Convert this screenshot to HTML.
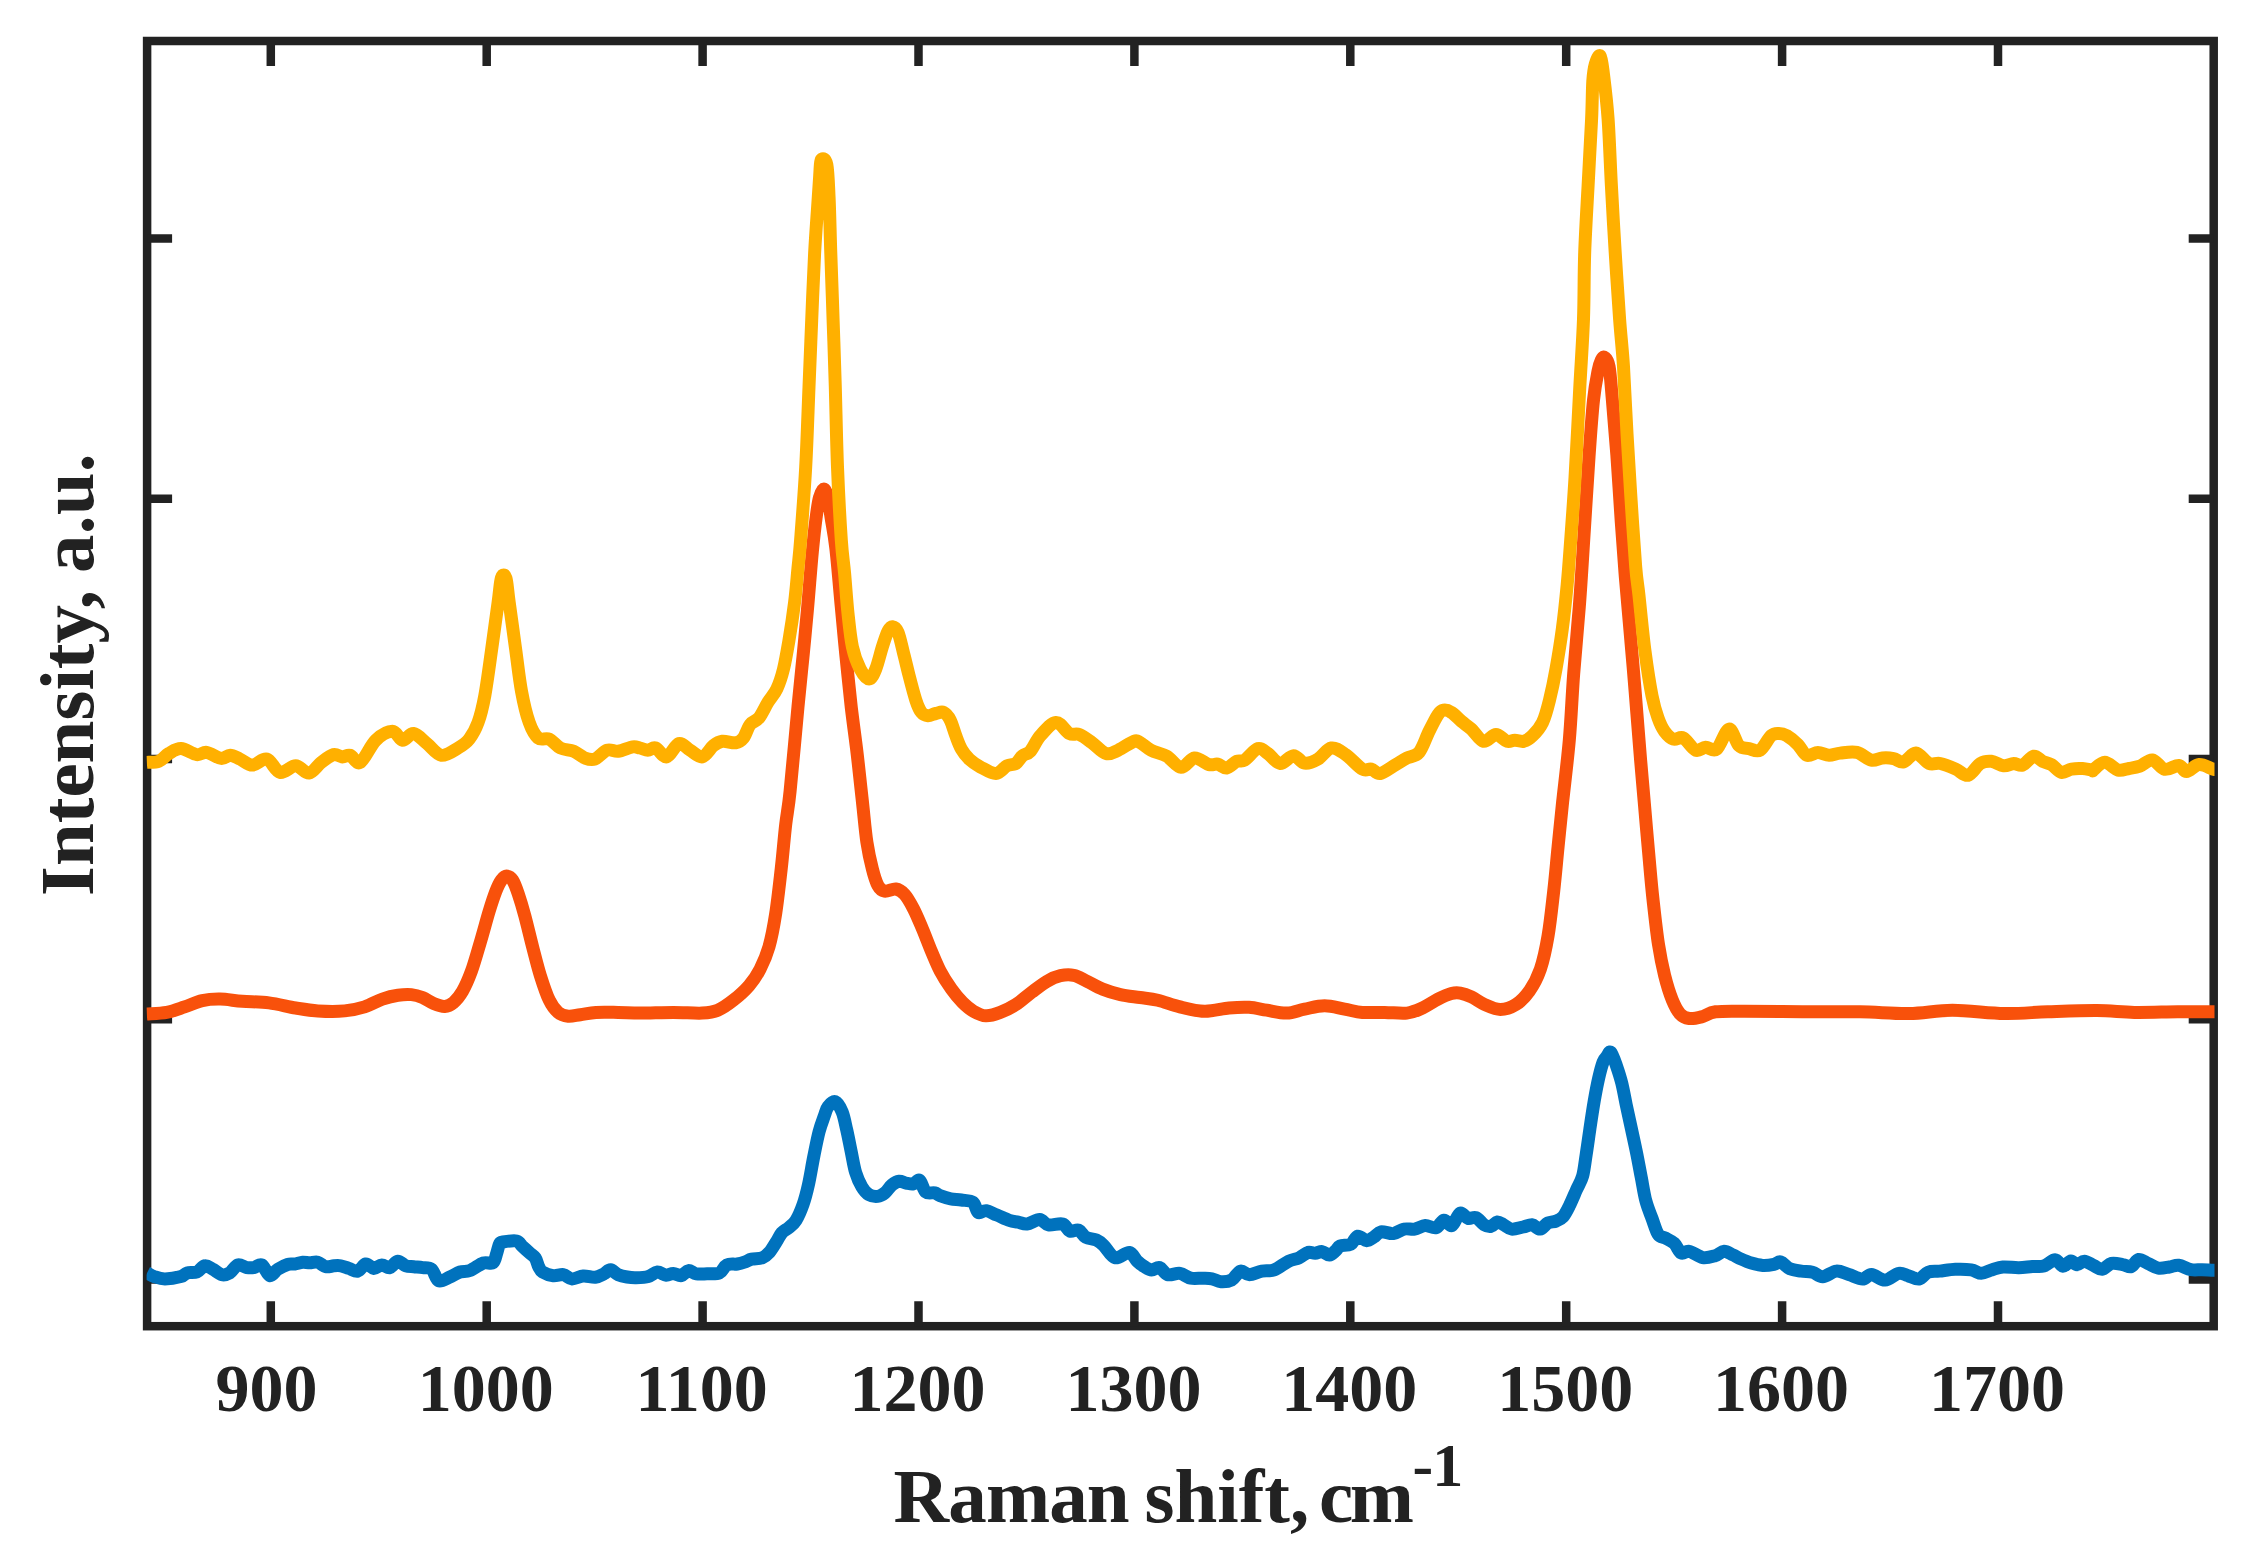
<!DOCTYPE html>
<html lang="en"><head><meta charset="utf-8"><title>Raman spectra</title>
<style>html,body{margin:0;padding:0;background:#fff}body{width:2250px;height:1560px;overflow:hidden}svg{display:block}text{font-family:"Liberation Serif","Times New Roman",serif;font-weight:bold;fill:#222222}</style></head><body>
<svg width="2250" height="1560" viewBox="0 0 2250 1560">
<rect width="2250" height="1560" fill="#ffffff"/>
<g stroke="#222222" stroke-width="8.5" fill="none" stroke-linecap="butt">
<rect x="147.1" y="41.0" width="2066.6" height="1285.2"/>
<path d="M270.8 1326.2 V1301.2 M270.8 41.0 V66.0 M486.7 1326.2 V1301.2 M486.7 41.0 V66.0 M702.6 1326.2 V1301.2 M702.6 41.0 V66.0 M918.5 1326.2 V1301.2 M918.5 41.0 V66.0 M1134.4 1326.2 V1301.2 M1134.4 41.0 V66.0 M1350.3 1326.2 V1301.2 M1350.3 41.0 V66.0 M1566.2 1326.2 V1301.2 M1566.2 41.0 V66.0 M1782.1 1326.2 V1301.2 M1782.1 41.0 V66.0 M1998.0 1326.2 V1301.2 M1998.0 41.0 V66.0 M147.1 238.5 H172.1 M2213.7 238.5 H2188.7 M147.1 498.8 H172.1 M2213.7 498.8 H2188.7 M147.1 759.0 H172.1 M2213.7 759.0 H2188.7 M147.1 1019.2 H172.1 M2213.7 1019.2 H2188.7 M147.1 1279.5 H172.1 M2213.7 1279.5 H2188.7"/>
</g>
<defs><clipPath id="c"><rect x="146.6" y="41.0" width="2067.9" height="1285.2"/></clipPath></defs>
<g clip-path="url(#c)" fill="none" stroke-width="13" stroke-linejoin="round" stroke-linecap="butt">
<path stroke="#0072BD" d="M147.1 1272.9C148.3 1273.5 151.2 1275.6 154.2 1276.6C157.2 1277.6 160.4 1278.9 164.9 1278.9C169.4 1278.9 177.2 1277.6 180.9 1276.6C184.6 1275.6 184.4 1273.7 187.1 1272.9C189.8 1272.1 193.9 1273.2 196.9 1272.0C199.9 1270.8 202.2 1266.2 204.9 1265.8C207.6 1265.3 210.1 1267.8 212.9 1269.3C215.7 1270.8 219.0 1274.1 221.8 1274.7C224.6 1275.3 227.1 1274.5 229.8 1272.9C232.5 1271.3 235.0 1265.8 237.8 1264.9C240.6 1264.0 244.0 1267.1 246.7 1267.6C249.4 1268.0 251.3 1268.0 253.8 1267.6C256.3 1267.1 259.1 1263.6 261.8 1264.9C264.5 1266.2 267.1 1274.9 269.8 1275.6C272.5 1276.3 274.8 1271.1 277.8 1269.3C280.8 1267.5 284.8 1265.4 287.6 1264.5C290.4 1263.6 292.2 1264.4 294.7 1264.0C297.2 1263.6 300.2 1262.4 302.7 1262.2C305.2 1262.0 307.3 1262.8 309.8 1262.8C312.3 1262.8 315.1 1261.5 317.8 1262.2C320.5 1262.9 323.1 1266.1 325.8 1266.7C328.5 1267.3 331.3 1266.0 333.8 1265.8C336.3 1265.6 338.4 1265.4 340.9 1265.8C343.4 1266.2 346.1 1267.5 348.9 1268.4C351.7 1269.3 355.0 1271.8 357.8 1271.1C360.6 1270.4 363.1 1264.5 365.8 1264.0C368.5 1263.5 371.1 1268.2 373.8 1268.4C376.5 1268.6 379.1 1265.0 381.8 1264.9C384.5 1264.8 387.1 1268.2 389.8 1267.6C392.5 1267.0 395.1 1261.6 397.8 1261.3C400.5 1261.0 403.1 1264.9 405.8 1265.8C408.5 1266.7 411.0 1266.4 413.8 1266.7C416.6 1267.0 419.7 1267.2 422.7 1267.6C425.7 1268.0 428.9 1267.1 431.6 1269.3C434.3 1271.5 435.8 1279.6 438.7 1280.9C441.6 1282.2 445.8 1278.8 449.3 1277.3C452.9 1275.8 456.6 1273.1 460.0 1272.0C463.4 1270.9 466.1 1272.0 470.0 1270.5C473.9 1269.0 479.5 1264.3 483.3 1263.0C487.1 1261.7 490.8 1264.4 493.0 1262.8C495.2 1261.2 495.6 1256.4 496.7 1253.3C497.8 1250.2 498.4 1245.9 499.5 1244.0C500.6 1242.1 500.1 1242.5 503.0 1242.0C505.9 1241.5 513.5 1240.3 516.7 1241.0C519.9 1241.7 519.8 1244.0 522.0 1246.0C524.2 1248.0 527.8 1251.3 530.0 1253.3C532.2 1255.3 533.8 1255.8 535.3 1258.0C536.8 1260.2 537.5 1264.4 538.7 1266.7C539.9 1269.0 540.1 1270.5 542.5 1272.0C544.9 1273.5 549.8 1275.3 553.3 1275.7C556.8 1276.1 560.2 1274.1 563.3 1274.6C566.4 1275.1 568.7 1278.7 572.0 1278.9C575.3 1279.1 579.4 1276.3 583.3 1276.0C587.2 1275.7 591.8 1277.7 595.3 1277.3C598.8 1276.9 601.5 1275.0 604.0 1273.8C606.5 1272.5 608.1 1269.6 610.5 1269.8C612.9 1270.0 615.4 1273.5 618.2 1274.7C621.0 1275.9 624.1 1276.5 627.1 1277.0C630.1 1277.5 632.5 1277.8 636.0 1277.7C639.5 1277.6 644.9 1277.4 648.4 1276.4C651.9 1275.5 654.3 1272.2 657.3 1272.0C660.3 1271.8 663.5 1275.0 666.2 1275.2C668.9 1275.4 670.8 1273.3 673.3 1273.4C675.8 1273.5 678.8 1276.1 681.3 1275.6C683.8 1275.1 685.9 1270.9 688.4 1270.6C690.9 1270.3 693.3 1273.3 696.4 1273.8C699.5 1274.3 703.2 1273.9 707.1 1273.8C711.0 1273.7 716.3 1274.4 719.6 1272.9C722.9 1271.4 723.8 1266.4 726.7 1264.9C729.7 1263.4 734.3 1264.5 737.3 1264.0C740.2 1263.5 742.0 1263.0 744.4 1262.2C746.8 1261.4 748.6 1259.9 751.6 1259.2C754.6 1258.5 759.2 1258.9 762.2 1257.8C765.2 1256.7 766.9 1255.1 769.3 1252.4C771.7 1249.7 774.3 1245.0 776.4 1241.8C778.5 1238.5 779.7 1235.3 781.8 1232.9C783.9 1230.5 786.5 1229.7 788.9 1227.6C791.3 1225.5 793.6 1224.3 796.0 1220.4C798.4 1216.5 801.0 1210.3 803.1 1204.4C805.2 1198.5 806.6 1192.9 808.4 1184.9C810.2 1176.9 812.0 1165.3 813.8 1156.4C815.6 1147.5 817.3 1138.4 819.1 1131.6C820.9 1124.8 822.9 1119.8 824.4 1115.6C825.9 1111.4 826.2 1109.0 828.0 1106.7C829.8 1104.4 832.7 1100.8 835.1 1101.7C837.5 1102.6 840.3 1107.3 842.2 1112.0C844.1 1116.7 845.2 1123.3 846.7 1129.8C848.2 1136.3 849.6 1144.0 851.1 1151.1C852.6 1158.2 853.8 1166.5 855.6 1172.4C857.4 1178.3 859.6 1183.0 861.8 1186.7C864.0 1190.4 866.2 1193.1 868.9 1194.7C871.6 1196.3 875.1 1196.7 877.8 1196.4C880.5 1196.1 882.5 1194.8 884.9 1192.9C887.3 1191.0 889.6 1186.8 892.0 1184.9C894.4 1183.0 896.7 1181.6 899.1 1181.3C901.5 1181.0 903.8 1182.6 906.2 1183.1C908.6 1183.5 911.1 1184.5 913.3 1184.0C915.5 1183.5 917.5 1179.1 919.6 1180.4C921.7 1181.7 923.3 1189.9 925.8 1192.0C928.3 1194.1 932.3 1192.3 934.7 1192.9C937.1 1193.5 937.3 1194.6 940.0 1195.6C942.7 1196.6 947.2 1198.1 950.7 1198.8C954.2 1199.5 957.6 1199.4 961.3 1200.0C965.0 1200.6 970.1 1200.2 972.9 1202.3C975.7 1204.4 976.0 1211.0 978.2 1212.4C980.4 1213.8 983.1 1210.2 986.2 1210.7C989.3 1211.2 993.0 1213.5 996.9 1215.1C1000.8 1216.7 1005.8 1219.2 1009.3 1220.4C1012.8 1221.6 1015.2 1221.6 1018.2 1222.2C1021.2 1222.8 1023.5 1224.4 1027.1 1224.0C1030.7 1223.6 1036.0 1219.4 1039.6 1219.6C1043.1 1219.8 1044.6 1224.2 1048.4 1224.9C1052.2 1225.6 1059.1 1223.0 1062.7 1224.0C1066.3 1225.0 1067.1 1230.1 1069.8 1231.1C1072.5 1232.1 1076.0 1229.2 1078.7 1230.2C1081.4 1231.2 1082.8 1235.7 1085.8 1237.3C1088.8 1238.9 1093.4 1238.7 1096.4 1240.0C1099.4 1241.3 1100.5 1242.3 1103.6 1245.3C1106.7 1248.3 1110.8 1256.6 1115.1 1257.8C1119.4 1259.0 1125.6 1251.8 1129.3 1252.4C1133.0 1253.0 1134.8 1258.9 1137.3 1261.3C1139.8 1263.7 1142.0 1265.3 1144.4 1266.7C1146.8 1268.1 1149.1 1269.8 1151.6 1269.9C1154.1 1270.1 1156.9 1266.8 1159.6 1267.6C1162.3 1268.4 1164.2 1273.7 1167.6 1274.7C1171.0 1275.7 1176.2 1272.8 1180.0 1273.4C1183.8 1274.0 1186.9 1277.4 1190.7 1278.2C1194.5 1279.0 1199.5 1278.1 1203.1 1278.2C1206.6 1278.3 1209.0 1278.2 1212.0 1278.8C1215.0 1279.4 1217.6 1281.6 1220.9 1281.8C1224.2 1282.0 1228.3 1281.8 1231.6 1280.0C1234.8 1278.2 1237.5 1272.0 1240.4 1271.1C1243.4 1270.2 1245.7 1274.7 1249.3 1274.7C1252.9 1274.7 1257.6 1271.9 1261.8 1271.1C1266.0 1270.3 1269.8 1271.5 1274.2 1269.9C1278.6 1268.3 1284.2 1263.3 1288.4 1261.3C1292.6 1259.3 1295.8 1259.3 1299.1 1257.8C1302.4 1256.3 1305.3 1253.2 1308.0 1252.4C1310.7 1251.7 1312.7 1253.4 1315.1 1253.3C1317.5 1253.2 1319.8 1251.3 1322.2 1251.6C1324.6 1251.9 1327.1 1255.2 1329.3 1255.1C1331.5 1254.9 1333.8 1252.2 1335.6 1250.7C1337.4 1249.2 1337.5 1247.1 1340.0 1246.0C1342.5 1244.9 1347.7 1245.8 1350.7 1244.2C1353.7 1242.6 1355.1 1236.8 1357.8 1236.2C1360.5 1235.6 1364.0 1240.6 1366.7 1240.7C1369.4 1240.8 1371.4 1238.6 1373.8 1237.1C1376.2 1235.6 1377.7 1232.4 1380.9 1231.8C1384.2 1231.2 1389.5 1234.0 1393.3 1233.6C1397.1 1233.1 1400.4 1229.8 1404.0 1229.1C1407.6 1228.3 1411.2 1229.7 1414.7 1229.1C1418.2 1228.5 1421.8 1225.8 1425.3 1225.6C1428.8 1225.4 1432.9 1228.6 1436.0 1227.7C1439.1 1226.8 1441.3 1220.6 1444.0 1220.2C1446.7 1219.8 1449.3 1226.8 1452.0 1225.6C1454.7 1224.4 1457.3 1214.3 1460.0 1213.1C1462.7 1211.9 1465.3 1217.7 1468.0 1218.4C1470.7 1219.2 1473.3 1216.5 1476.0 1217.6C1478.7 1218.6 1481.5 1223.2 1484.0 1224.7C1486.5 1226.2 1488.9 1226.9 1491.1 1226.4C1493.3 1226.0 1495.2 1222.3 1497.3 1222.0C1499.4 1221.7 1501.2 1223.5 1503.6 1224.7C1506.0 1225.9 1508.3 1228.7 1511.6 1229.1C1514.8 1229.5 1519.7 1227.7 1523.1 1227.0C1526.5 1226.3 1529.2 1224.4 1532.0 1224.7C1534.8 1225.0 1537.3 1229.4 1540.0 1229.1C1542.7 1228.8 1545.3 1224.2 1548.0 1222.9C1550.7 1221.6 1553.5 1222.1 1556.0 1221.1C1558.5 1220.1 1560.9 1219.2 1563.1 1216.7C1565.3 1214.2 1567.1 1210.5 1569.3 1206.0C1571.5 1201.5 1574.2 1195.0 1576.4 1190.0C1578.6 1185.0 1581.1 1181.7 1582.7 1175.8C1584.3 1169.9 1585.0 1162.1 1586.2 1154.4C1587.4 1146.7 1588.5 1138.5 1589.8 1129.6C1591.1 1120.7 1592.7 1109.7 1594.2 1101.1C1595.7 1092.5 1597.2 1084.5 1598.7 1078.0C1600.2 1071.5 1601.8 1065.5 1603.1 1062.0C1604.4 1058.5 1605.4 1058.3 1606.7 1056.7C1608.0 1055.1 1609.2 1050.7 1610.8 1052.2C1612.4 1053.7 1614.6 1060.4 1616.4 1065.6C1618.2 1070.8 1620.2 1076.8 1621.8 1083.3C1623.4 1089.8 1624.6 1097.0 1626.2 1104.7C1627.8 1112.4 1629.8 1121.3 1631.6 1129.6C1633.4 1137.9 1635.3 1146.4 1636.9 1154.4C1638.5 1162.4 1639.8 1169.9 1641.3 1177.6C1642.8 1185.3 1644.0 1193.9 1645.8 1200.7C1647.6 1207.5 1649.9 1212.8 1652.0 1218.4C1654.1 1224.0 1656.0 1231.1 1658.2 1234.4C1660.4 1237.7 1662.6 1236.5 1665.3 1238.0C1668.0 1239.5 1671.5 1240.8 1674.2 1243.3C1676.9 1245.8 1678.8 1251.8 1681.3 1253.1C1683.8 1254.4 1685.7 1250.5 1689.3 1251.3C1692.9 1252.0 1698.4 1256.8 1702.7 1257.6C1707.0 1258.3 1711.5 1256.8 1715.1 1255.8C1718.6 1254.8 1721.0 1251.4 1724.0 1251.3C1727.0 1251.2 1730.2 1253.7 1732.9 1254.9C1735.6 1256.1 1736.9 1257.2 1740.0 1258.6C1743.1 1260.0 1747.5 1262.0 1751.3 1263.1C1755.1 1264.2 1758.9 1265.2 1762.7 1265.4C1766.5 1265.6 1771.0 1264.9 1774.0 1264.3C1777.0 1263.7 1778.1 1261.2 1780.8 1262.0C1783.5 1262.8 1786.5 1267.3 1789.9 1268.8C1793.3 1270.3 1797.4 1270.5 1801.2 1271.1C1805.0 1271.7 1808.9 1271.3 1812.5 1272.2C1816.1 1273.1 1818.7 1276.9 1822.7 1276.7C1826.7 1276.5 1832.0 1271.5 1836.3 1271.1C1840.6 1270.7 1844.4 1273.2 1848.8 1274.5C1853.2 1275.8 1858.6 1279.0 1862.4 1279.0C1866.2 1279.0 1867.7 1274.3 1871.5 1274.5C1875.3 1274.7 1880.6 1280.3 1885.1 1280.1C1889.6 1279.9 1894.9 1274.0 1898.7 1273.3C1902.5 1272.5 1904.3 1274.6 1907.7 1275.6C1911.1 1276.5 1915.7 1279.6 1919.1 1279.0C1922.5 1278.4 1924.7 1273.5 1928.1 1272.2C1931.5 1270.9 1935.0 1271.6 1939.5 1271.1C1944.0 1270.6 1950.0 1269.5 1955.3 1269.3C1960.6 1269.1 1966.8 1269.2 1971.2 1269.9C1975.6 1270.6 1978.0 1273.3 1981.4 1273.3C1984.8 1273.3 1988.0 1271.0 1991.6 1269.9C1995.2 1268.9 1998.4 1267.4 2002.9 1267.0C2007.4 1266.6 2013.9 1267.8 2018.8 1267.7C2023.7 1267.6 2028.2 1266.8 2032.4 1266.5C2036.6 1266.2 2039.9 1267.2 2043.7 1266.1C2047.5 1265.0 2051.9 1259.7 2055.1 1259.7C2058.3 1259.7 2060.4 1266.0 2063.0 1266.2C2065.6 1266.4 2068.6 1261.2 2070.9 1261.0C2073.2 1260.8 2074.8 1264.8 2077.0 1264.8C2079.2 1264.8 2081.6 1261.1 2084.4 1261.2C2087.2 1261.3 2090.6 1264.2 2093.6 1265.5C2096.6 1266.8 2099.2 1269.6 2102.2 1269.3C2105.2 1269.0 2108.1 1264.2 2111.5 1263.4C2114.9 1262.6 2119.4 1264.0 2122.7 1264.6C2126.0 1265.1 2128.4 1267.5 2131.1 1266.7C2133.8 1265.9 2135.8 1260.0 2138.6 1259.5C2141.4 1259.0 2144.7 1262.1 2148.0 1263.5C2151.3 1264.9 2154.6 1267.5 2158.2 1268.1C2161.8 1268.7 2166.0 1267.5 2169.4 1267.0C2172.8 1266.5 2175.1 1264.9 2178.7 1265.3C2182.3 1265.7 2187.0 1268.9 2190.9 1269.6C2194.8 1270.3 2198.2 1269.6 2202.0 1269.7C2205.8 1269.8 2210.2 1270.1 2213.7 1270.2C2217.2 1270.3 2221.3 1270.2 2222.8 1270.2"/>
<path stroke="#F8510B" d="M146.7 1014.0C150.0 1013.7 160.4 1013.6 166.7 1012.4C173.0 1011.2 178.6 1008.9 184.5 1006.9C190.4 1004.9 196.4 1001.9 202.3 1000.6C208.2 999.3 213.4 999.0 220.1 999.1C226.8 999.2 234.2 1000.7 242.3 1001.3C250.5 1001.9 260.1 1001.8 269.0 1002.9C277.9 1004.0 287.6 1006.7 295.7 1008.0C303.8 1009.3 309.8 1010.4 317.9 1010.9C326.0 1011.4 336.8 1011.6 344.6 1010.9C352.4 1010.2 358.3 1008.9 364.6 1006.9C370.9 1004.9 376.8 1001.0 382.4 999.1C388.0 997.2 393.2 996.0 398.0 995.3C402.8 994.5 407.3 994.2 411.4 994.6C415.5 995.0 418.8 996.0 422.5 997.5C426.2 999.0 429.9 1002.0 433.6 1003.5C437.3 1005.0 441.4 1006.6 444.7 1006.4C448.0 1006.2 450.6 1004.9 453.6 1002.4C456.6 999.9 459.5 996.5 462.5 991.3C465.5 986.1 468.4 979.4 471.4 971.3C474.4 963.1 477.3 952.4 480.3 942.4C483.3 932.4 486.6 919.7 489.2 911.2C491.8 902.7 493.9 896.4 495.9 891.2C497.9 886.0 499.6 882.6 501.4 880.1C503.2 877.6 504.6 876.1 506.5 876.1C508.4 876.1 510.7 877.2 512.6 880.1C514.5 883.0 516.1 887.5 518.1 893.4C520.1 899.3 522.4 906.8 524.8 915.7C527.2 924.6 530.0 936.8 532.6 946.8C535.2 956.8 537.6 966.8 540.4 975.7C543.2 984.6 546.3 994.1 549.3 1000.2C552.2 1006.3 555.0 1009.7 558.1 1012.4C561.2 1015.1 564.5 1015.8 568.2 1016.2C571.9 1016.6 575.8 1015.3 580.4 1014.7C585.0 1014.1 589.7 1012.8 596.0 1012.4C602.3 1012.0 610.9 1012.3 618.2 1012.4C625.5 1012.5 630.8 1013.1 640.0 1013.1C649.2 1013.1 663.0 1012.4 673.4 1012.4C683.8 1012.4 694.9 1013.5 702.3 1013.1C709.7 1012.7 712.6 1012.4 717.8 1010.2C723.0 1008.1 728.2 1004.3 733.4 1000.2C738.6 996.1 744.5 990.9 749.0 985.7C753.5 980.5 756.8 975.6 760.1 969.1C763.4 962.6 766.4 956.1 769.0 946.8C771.6 937.5 773.7 926.5 775.7 913.5C777.7 900.5 779.5 883.8 781.2 869.0C782.9 854.2 784.2 837.5 785.7 824.5C787.2 811.5 788.1 810.7 790.1 791.1C792.1 771.5 795.9 729.1 798.0 706.7C800.1 684.3 801.4 672.8 803.0 656.7C804.6 640.6 805.8 627.6 807.4 610.0C809.0 592.4 810.9 566.5 812.4 551.1C813.9 535.7 814.9 526.7 816.1 517.8C817.3 508.9 818.1 502.6 819.4 497.8C820.7 493.0 822.5 488.9 823.9 488.9C825.3 488.9 826.6 493.0 827.8 497.8C829.0 502.6 829.8 509.4 831.1 517.8C832.4 526.2 834.1 533.3 835.8 548.0C837.5 562.7 839.5 587.9 841.2 606.0C842.9 624.1 844.3 639.9 846.0 656.7C847.7 673.5 849.5 691.4 851.2 706.7C853.0 722.0 854.9 735.2 856.5 748.3C858.1 761.3 859.5 774.9 860.6 785.0C861.7 795.1 862.2 799.5 863.2 809.0C864.2 818.5 865.4 832.3 866.9 842.3C868.4 852.3 870.5 861.8 872.4 869.0C874.2 876.2 876.0 881.9 878.0 885.6C880.0 889.3 881.7 890.6 884.7 891.2C887.7 891.8 892.5 888.5 895.8 889.0C899.1 889.5 901.7 891.2 904.7 894.5C907.7 897.8 910.6 903.2 913.6 909.0C916.6 914.8 919.5 922.0 922.5 929.0C925.5 936.0 928.4 944.2 931.4 951.3C934.4 958.3 937.0 965.0 940.3 971.3C943.6 977.6 947.7 983.9 951.4 989.1C955.1 994.3 958.8 998.7 962.5 1002.4C966.2 1006.1 969.7 1009.1 973.6 1011.3C977.5 1013.5 981.5 1015.6 985.9 1015.8C990.3 1016.0 995.3 1014.3 1000.3 1012.4C1005.3 1010.5 1010.7 1007.9 1015.9 1004.6C1021.1 1001.3 1026.3 996.3 1031.5 992.4C1036.7 988.5 1042.2 984.1 1047.0 981.3C1051.8 978.5 1056.0 976.7 1060.4 975.7C1064.9 974.7 1069.2 974.4 1073.7 975.3C1078.2 976.2 1082.3 979.0 1087.1 981.3C1091.9 983.6 1097.0 986.9 1102.6 989.1C1108.1 991.3 1114.2 993.2 1120.4 994.6C1126.6 996.0 1133.8 996.6 1140.0 997.5C1146.2 998.4 1151.1 998.6 1157.8 1000.2C1164.5 1001.8 1172.2 1005.0 1180.0 1006.9C1187.8 1008.8 1196.3 1011.1 1204.5 1011.3C1212.7 1011.5 1221.6 1008.7 1229.0 1008.0C1236.4 1007.3 1242.7 1006.9 1249.0 1007.3C1255.3 1007.7 1260.5 1009.2 1266.8 1010.2C1273.1 1011.2 1280.5 1013.3 1286.8 1013.1C1293.1 1012.9 1298.3 1010.3 1304.6 1009.1C1310.9 1007.9 1317.9 1005.8 1324.6 1005.8C1331.3 1005.8 1338.3 1008.0 1344.6 1009.1C1350.9 1010.2 1355.7 1011.9 1362.4 1012.4C1369.1 1012.9 1377.3 1012.3 1384.7 1012.4C1392.1 1012.5 1400.6 1013.8 1406.9 1013.1C1413.2 1012.4 1417.3 1010.3 1422.5 1008.0C1427.7 1005.7 1433.2 1001.5 1438.0 999.1C1442.8 996.7 1447.7 994.5 1451.4 993.5C1455.1 992.5 1457.0 992.5 1460.3 993.1C1463.6 993.7 1467.3 995.0 1471.4 996.9C1475.5 998.8 1480.0 1002.5 1484.8 1004.6C1489.6 1006.7 1495.1 1009.5 1500.3 1009.5C1505.5 1009.5 1511.1 1007.6 1515.9 1004.6C1520.7 1001.6 1525.1 997.2 1529.2 991.3C1533.3 985.4 1537.2 978.4 1540.4 969.1C1543.6 959.8 1545.9 948.7 1548.1 935.7C1550.3 922.7 1552.0 906.0 1553.7 891.2C1555.4 876.4 1556.6 861.5 1558.1 846.7C1559.6 831.9 1560.7 820.0 1562.6 802.2C1564.5 784.5 1567.4 761.7 1569.3 740.2C1571.2 718.8 1572.0 695.8 1573.7 673.5C1575.4 651.2 1577.6 629.0 1579.3 606.7C1581.0 584.5 1582.1 565.2 1583.7 540.0C1585.3 514.8 1587.5 479.0 1589.1 455.7C1590.7 432.4 1592.0 414.2 1593.5 400.1C1595.0 386.0 1596.7 377.9 1598.0 371.2C1599.3 364.5 1600.2 362.4 1601.3 360.1C1602.4 357.8 1603.3 356.3 1604.6 357.4C1605.9 358.5 1607.8 359.6 1609.1 366.7C1610.4 373.8 1611.1 385.3 1612.4 400.1C1613.7 414.9 1615.4 435.3 1616.9 455.7C1618.4 476.1 1619.9 502.4 1621.3 522.4C1622.7 542.4 1623.9 558.9 1625.2 575.4C1626.5 591.9 1627.9 606.1 1629.2 621.5C1630.5 636.9 1631.9 652.3 1633.2 667.7C1634.5 683.1 1635.7 698.4 1636.9 713.8C1638.1 729.2 1639.3 744.6 1640.6 760.0C1641.9 775.4 1643.3 790.8 1644.6 806.2C1645.9 821.6 1647.2 836.9 1648.6 852.3C1650.0 867.7 1651.2 883.1 1652.9 898.5C1654.6 913.9 1656.5 931.8 1658.5 944.6C1660.5 957.4 1662.3 966.2 1664.6 975.4C1666.9 984.6 1669.7 993.6 1672.3 1000.0C1674.9 1006.4 1677.2 1010.7 1680.0 1013.8C1682.8 1016.9 1685.6 1018.0 1689.2 1018.5C1692.8 1019.0 1697.1 1018.0 1701.5 1016.9C1705.9 1015.8 1708.4 1012.8 1715.6 1011.8C1722.8 1010.8 1730.0 1011.2 1744.4 1011.2C1758.8 1011.2 1782.9 1011.7 1802.2 1011.8C1821.5 1011.9 1842.2 1011.5 1860.0 1011.8C1877.8 1012.1 1893.7 1013.8 1909.1 1013.5C1924.5 1013.2 1936.5 1010.3 1952.4 1010.3C1968.3 1010.3 1988.5 1013.2 2004.4 1013.5C2020.3 1013.8 2032.4 1012.3 2047.8 1011.8C2063.2 1011.3 2082.5 1010.5 2096.9 1010.6C2111.3 1010.7 2120.9 1012.2 2134.4 1012.4C2147.9 1012.6 2164.6 1011.9 2177.8 1011.8C2191.1 1011.7 2206.2 1011.8 2213.9 1011.8C2221.6 1011.8 2222.3 1011.8 2224.0 1011.8"/>
<path stroke="#FFB000" d="M146.7 762.4C148.7 762.2 155.2 762.8 158.9 761.3C162.6 759.8 165.2 755.6 168.9 753.5C172.6 751.4 176.5 748.4 181.1 748.6C185.7 748.8 192.4 754.0 196.7 754.6C201.0 755.2 202.6 751.8 206.7 752.4C210.8 753.0 217.3 757.9 221.2 758.4C225.1 758.9 226.9 755.2 230.1 755.3C233.2 755.4 236.4 757.5 240.1 759.1C243.8 760.7 247.9 765.1 252.3 765.1C256.8 765.1 262.2 757.9 266.8 759.1C271.4 760.3 275.3 771.3 280.1 772.4C284.9 773.5 290.9 765.7 295.7 765.8C300.5 765.9 304.7 773.7 309.0 773.1C313.3 772.5 317.2 765.5 321.3 762.4C325.4 759.3 330.0 755.5 333.5 754.6C337.0 753.7 339.6 756.8 342.4 756.9C345.2 757.0 347.2 754.4 350.2 755.3C353.2 756.2 355.9 764.9 360.2 762.4C364.5 759.9 370.4 745.4 375.8 740.2C381.2 735.0 387.9 731.3 392.4 731.3C396.8 731.3 399.0 739.8 402.5 740.2C406.0 740.6 409.5 733.0 413.6 733.5C417.7 734.0 422.3 739.9 426.9 743.5C431.5 747.1 436.2 754.5 441.4 755.3C446.6 756.0 453.5 750.7 458.1 748.0C462.7 745.3 465.9 743.4 469.2 739.1C472.5 734.8 475.5 729.6 478.1 722.4C480.7 715.2 482.6 707.6 484.8 695.7C487.0 683.8 489.2 666.8 491.4 651.2C493.6 635.6 496.4 614.5 498.1 602.3C499.8 590.1 500.1 582.0 501.4 578.0C502.7 574.0 504.6 574.0 505.9 578.0C507.2 582.0 507.5 590.1 509.2 602.3C510.9 614.5 513.9 636.4 515.9 651.2C517.9 666.0 519.3 679.3 521.5 691.2C523.7 703.1 526.4 714.6 529.2 722.4C532.0 730.2 534.8 735.2 538.1 738.0C541.5 740.8 545.6 737.4 549.3 739.1C553.0 740.8 556.3 746.0 560.4 748.0C564.5 750.0 569.6 749.6 573.7 751.3C577.8 753.0 581.3 756.7 584.8 758.0C588.3 759.3 591.1 760.4 594.8 759.1C598.5 757.8 603.2 751.5 607.1 750.2C611.0 748.9 613.9 751.8 618.2 751.3C622.5 750.8 629.1 747.4 632.7 746.9C636.3 746.4 637.5 747.5 640.0 748.0C642.5 748.5 645.2 750.2 647.8 750.2C650.4 750.2 652.5 746.9 655.6 748.0C658.8 749.1 662.8 757.6 666.7 756.9C670.6 756.1 675.0 744.6 678.9 743.5C682.8 742.4 686.1 748.0 690.0 750.2C693.9 752.4 698.4 757.6 702.3 756.9C706.2 756.1 710.1 748.3 713.4 745.7C716.7 743.1 718.6 741.8 722.3 741.3C726.0 740.8 732.1 743.3 735.6 742.8C739.1 742.2 741.0 741.0 743.4 738.0C745.8 735.0 747.5 728.0 750.1 724.6C752.7 721.2 756.0 721.6 759.0 717.9C762.0 714.2 764.9 707.2 767.9 702.4C770.9 697.6 774.2 694.6 776.8 689.0C779.4 683.4 781.5 677.1 783.5 669.0C785.5 660.9 787.1 651.2 789.0 640.1C790.9 629.0 793.1 614.2 794.6 602.3C796.1 590.4 796.9 579.3 797.9 568.9C798.9 558.5 799.3 557.0 800.6 540.0C801.9 523.0 804.3 492.5 805.7 467.0C807.1 441.5 808.0 411.4 809.0 386.9C810.0 362.4 810.8 342.4 811.7 320.2C812.6 298.0 813.6 272.0 814.6 253.5C815.6 235.0 816.6 222.0 817.5 209.0C818.4 196.0 819.1 183.8 819.7 175.6C820.3 167.4 820.1 161.4 821.3 159.6C822.5 157.8 825.5 158.1 826.8 164.5C828.1 170.9 828.4 183.0 829.1 197.8C829.8 212.6 830.1 233.1 830.8 253.5C831.5 273.9 832.4 298.0 833.1 320.2C833.9 342.4 834.6 362.4 835.3 386.9C836.0 411.4 836.5 441.5 837.5 467.0C838.5 492.5 840.1 522.3 841.3 540.0C842.5 557.7 843.5 561.2 844.6 573.4C845.7 585.6 846.7 601.2 848.0 613.4C849.3 625.6 850.4 637.5 852.4 646.8C854.4 656.1 857.4 663.6 860.2 669.0C863.0 674.4 866.5 679.0 869.1 679.0C871.7 679.0 873.6 674.4 875.8 669.0C878.0 663.6 880.4 653.1 882.4 646.8C884.4 640.5 886.3 634.6 888.0 631.2C889.7 627.9 890.7 626.5 892.4 626.7C894.1 626.9 896.1 627.8 898.0 632.3C899.9 636.8 901.8 646.2 903.6 653.4C905.5 660.6 907.1 667.9 909.1 675.7C911.1 683.5 913.8 694.0 915.8 700.1C917.8 706.2 919.4 709.8 921.4 712.4C923.4 715.0 925.6 715.5 928.0 715.7C930.4 715.9 933.2 714.0 935.8 713.5C938.4 713.0 941.2 711.3 943.6 712.4C946.0 713.5 948.3 716.3 950.3 720.2C952.3 724.1 953.9 730.9 955.8 735.7C957.6 740.5 959.2 745.2 961.4 749.1C963.6 753.0 966.1 756.1 969.2 759.1C972.4 762.1 975.8 764.5 980.3 766.9C984.8 769.3 991.4 773.7 995.9 773.5C1000.4 773.3 1003.7 767.5 1007.0 765.8C1010.3 764.1 1013.3 765.2 1015.9 763.5C1018.5 761.8 1020.2 757.7 1022.6 755.7C1025.0 753.7 1027.3 754.6 1030.3 751.3C1033.3 748.0 1036.1 740.5 1040.4 735.7C1044.7 730.9 1051.1 722.8 1055.9 722.4C1060.7 722.0 1065.4 731.5 1069.3 733.5C1073.2 735.5 1075.6 733.1 1079.3 734.6C1083.0 736.1 1087.0 739.2 1091.5 742.4C1096.0 745.5 1101.5 752.2 1106.0 753.5C1110.5 754.8 1113.6 752.2 1118.2 750.2C1122.8 748.2 1130.2 742.6 1133.8 741.3C1137.4 740.0 1137.1 740.9 1140.0 742.4C1142.9 743.9 1146.6 747.9 1151.1 750.2C1155.5 752.5 1161.7 753.4 1166.7 756.2C1171.7 759.1 1176.5 767.0 1181.1 767.3C1185.7 767.6 1189.8 758.5 1194.5 758.0C1199.2 757.5 1205.1 763.6 1209.0 764.6C1212.9 765.6 1214.8 763.6 1217.8 764.2C1220.8 764.8 1223.5 768.5 1226.7 768.0C1229.9 767.5 1233.8 762.6 1236.8 761.3C1239.8 760.0 1241.0 762.3 1244.5 760.2C1248.0 758.1 1254.0 749.7 1257.9 748.6C1261.8 747.5 1264.2 751.0 1267.9 753.5C1271.6 756.0 1275.8 763.1 1280.1 763.5C1284.4 763.9 1289.4 755.8 1293.5 755.7C1297.6 755.6 1300.5 762.5 1304.6 763.1C1308.7 763.7 1313.5 761.6 1317.9 759.1C1322.4 756.6 1326.7 748.8 1331.3 748.0C1335.9 747.2 1340.5 751.1 1345.7 754.6C1350.9 758.1 1358.1 766.7 1362.4 769.1C1366.7 771.5 1368.3 768.4 1371.3 769.1C1374.3 769.8 1376.1 774.2 1380.2 773.5C1384.3 772.8 1391.3 767.2 1395.8 764.6C1400.2 762.0 1403.0 760.0 1406.9 758.0C1410.8 756.0 1415.4 756.9 1419.1 752.4C1422.8 747.9 1425.9 737.6 1429.1 731.3C1432.2 725.0 1435.6 718.1 1438.0 714.6C1440.4 711.1 1441.4 710.6 1443.6 710.2C1445.8 709.8 1448.4 710.5 1451.4 712.4C1454.4 714.2 1458.1 718.5 1461.4 721.3C1464.7 724.1 1467.7 725.8 1471.4 729.1C1475.1 732.4 1479.5 740.4 1483.6 741.3C1487.7 742.2 1492.0 734.6 1495.9 734.6C1499.8 734.6 1503.8 740.4 1507.0 741.3C1510.2 742.2 1512.0 740.2 1514.8 740.2C1517.6 740.2 1520.7 742.0 1523.7 741.3C1526.7 740.5 1529.4 738.9 1532.6 735.7C1535.8 732.6 1539.8 728.3 1542.6 722.4C1545.4 716.5 1547.3 709.0 1549.5 700.1C1551.7 691.2 1553.9 680.9 1556.0 669.0C1558.1 657.1 1560.4 643.1 1562.3 629.0C1564.2 614.9 1565.8 599.3 1567.2 584.5C1568.6 569.7 1569.4 557.8 1570.7 540.0C1572.0 522.2 1573.5 503.1 1575.0 477.9C1576.5 452.7 1578.3 415.5 1579.7 389.0C1581.1 362.5 1582.7 341.9 1583.5 319.1C1584.3 296.3 1583.9 274.6 1584.7 252.4C1585.5 230.2 1586.9 207.9 1588.1 185.7C1589.2 163.5 1590.8 136.4 1591.6 119.0C1592.4 101.6 1592.2 90.4 1592.8 81.2C1593.4 72.0 1594.1 68.2 1595.3 64.0C1596.5 59.8 1598.8 54.0 1600.2 55.8C1601.6 57.5 1602.2 64.0 1603.5 74.5C1604.8 85.0 1606.8 100.5 1608.1 119.0C1609.4 137.5 1610.2 163.5 1611.4 185.7C1612.6 207.9 1613.8 230.2 1615.2 252.4C1616.6 274.6 1618.2 300.1 1619.6 319.1C1621.0 338.2 1622.3 347.6 1623.5 366.7C1624.7 385.8 1625.7 411.2 1627.0 433.5C1628.3 455.8 1629.6 478.0 1631.1 500.2C1632.5 522.4 1634.4 551.0 1635.7 566.9C1637.0 582.8 1637.5 581.5 1639.0 595.6C1640.5 609.7 1642.8 634.5 1645.0 651.2C1647.2 667.9 1649.8 684.6 1652.0 695.7C1654.2 706.8 1655.9 712.0 1658.0 717.9C1660.1 723.8 1661.9 727.8 1664.5 731.3C1667.1 734.8 1670.2 738.0 1673.4 739.1C1676.6 740.2 1679.7 736.1 1683.4 738.0C1687.1 739.9 1691.9 748.7 1695.6 750.2C1699.3 751.8 1702.1 747.5 1705.6 747.3C1709.1 747.1 1712.8 752.1 1716.7 749.1C1720.6 746.1 1725.3 729.7 1729.0 729.1C1732.7 728.5 1735.7 742.5 1739.0 745.7C1742.3 749.0 1745.5 747.9 1749.0 748.6C1752.5 749.4 1756.4 752.4 1760.1 750.2C1763.8 748.1 1768.0 738.5 1771.2 735.7C1774.4 732.9 1776.4 733.5 1779.0 733.5C1781.6 733.5 1783.6 733.9 1786.8 735.7C1790.0 737.6 1794.6 741.3 1797.9 744.6C1801.2 747.9 1803.5 754.0 1806.8 755.3C1810.1 756.6 1814.2 752.4 1817.9 752.4C1821.6 752.4 1825.4 755.2 1829.1 755.3C1832.8 755.4 1835.6 753.6 1840.2 753.1C1844.8 752.6 1851.7 751.2 1856.9 752.4C1862.1 753.6 1867.0 759.3 1871.3 760.2C1875.5 761.1 1878.7 758.3 1882.4 758.0C1886.1 757.7 1890.1 757.9 1893.6 758.6C1897.1 759.3 1899.9 762.9 1903.6 762.0C1907.3 761.1 1911.5 752.9 1915.8 753.1C1920.0 753.4 1925.0 761.8 1929.1 763.5C1933.2 765.2 1935.8 762.6 1940.3 763.5C1944.8 764.4 1951.2 767.1 1955.8 769.1C1960.4 771.1 1964.0 776.2 1968.1 775.3C1972.2 774.4 1976.4 765.8 1980.3 763.5C1984.2 761.2 1987.5 760.9 1991.4 761.3C1995.3 761.7 2000.0 765.4 2003.7 765.8C2007.4 766.2 2010.6 763.6 2013.7 763.5C2016.8 763.4 2019.3 766.3 2022.6 765.1C2025.9 763.9 2030.4 756.8 2033.7 756.2C2037.0 755.6 2039.6 759.9 2042.6 761.3C2045.6 762.7 2048.3 762.8 2051.5 764.6C2054.7 766.5 2058.2 771.6 2061.5 772.4C2064.8 773.1 2068.0 769.7 2071.5 769.1C2075.0 768.5 2079.1 768.4 2082.6 768.6C2086.1 768.8 2090.8 770.0 2092.6 770.2C2093.1 770.5 2092.6 771.4 2093.1 770.1C2095.1 768.8 2100.6 762.3 2104.8 762.3C2109.0 762.3 2114.1 769.1 2118.1 770.1C2122.1 771.1 2125.4 769.1 2129.0 768.5C2132.6 767.9 2136.0 767.6 2139.9 766.2C2143.8 764.8 2148.2 759.4 2152.3 759.9C2156.5 760.4 2160.4 768.4 2164.8 769.3C2169.2 770.2 2175.2 765.0 2178.8 765.4C2182.4 765.8 2183.2 771.7 2186.6 771.6C2190.0 771.5 2194.5 765.0 2199.1 764.6C2203.7 764.2 2210.3 768.5 2213.9 769.3C2217.5 770.1 2219.7 769.3 2220.9 769.3"/>
</g>
<g font-size="68" text-anchor="middle">
<text x="266.5" y="1411">900</text>
<text x="485.7" y="1411">1000</text>
<text x="701.6" y="1411">1100</text>
<text x="917.5" y="1411">1200</text>
<text x="1133.4" y="1411">1300</text>
<text x="1349.3" y="1411">1400</text>
<text x="1565.2" y="1411">1500</text>
<text x="1781.1" y="1411">1600</text>
<text x="1997.0" y="1411">1700</text>
</g>
<text y="1522" font-size="77"><tspan x="893.6" letter-spacing="-0.9">Raman </tspan><tspan x="1144.5">shift, </tspan><tspan x="1319" letter-spacing="-3.5">cm</tspan><tspan x="1412.5" y="1486" font-size="62" letter-spacing="-1">-1</tspan></text>
<text transform="translate(92.5 896) rotate(-90)" font-size="77"><tspan x="0">Intensity, </tspan><tspan x="323">a.u.</tspan></text>
</svg></body></html>
